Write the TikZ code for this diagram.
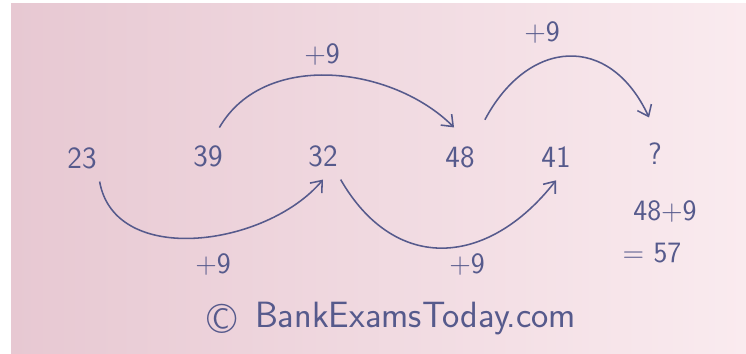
\documentclass[tikz,border=0pt]{standalone}
\usepackage{tikz}
\usepackage{xcolor}
\usetikzlibrary{arrows.meta, positioning}

\definecolor{ink}{RGB}{86,90,140}
\definecolor{paperL}{RGB}{231,200,210}
\definecolor{paperR}{RGB}{250,235,239}

\begin{document}
\begin{tikzpicture}[
				x=0.025cm, y=0.025cm,
				>={Straight Barb[length=7pt,width=11pt]},
				num/.style={font=\sffamily\fontsize{22}{24}\selectfont, text=ink, inner xsep=2pt, inner ysep=9pt},
				plus/.style={font=\sffamily\fontsize{21}{24}\selectfont, text=ink},
				arrow/.style={->, line width=1.1pt, draw=ink}
				]
				
				% Fondo
				\useasboundingbox (0,0) rectangle (746,354);
				\fill[white] (0,0) rectangle (746,354);
				\fill[left color=paperL, right color=paperR] (11,0) rectangle (746,350);
				
				% Serie
				\node[num] (n23) at (82,196) {23};
				\node[num] (n39) at (208,198) {39};
				\node[num] (n32) at (323,198) {32};
				\node[num] (n48) at (460,197) {48};
				\node[num] (n41) at (556,197) {41};
				\node[num] (nq)  at (655,200) {?};
				
				% Arcos de abajo
				\path
				(n23.south east) edge[arrow, out=-80, in=-130] (n32.south)
				(n32.south east) edge[arrow, out=-60, in=-128, looseness=1.3] (n41.south);
				
				% Arcos de arriba
				\path
				(n39.70) edge[arrow, out=60, in=135, shorten <=4pt, shorten >=6pt] (n48.north)
				(n48.north east) edge[arrow, out=62, in=115, looseness=1.55, shorten <=11pt, shorten >=10pt] (nq.north);
				
				% Sumandos
				\node[plus] (p1) at (213,89) {+9};
				\node[plus] (p2) at (322,299) {+9};
				\node[plus] (p3) at (467,89) {+9};
				\node[plus] (p4) at (542,321) {+9};
				
				% Respuesta
				\node[plus] (sum) at (665,142) {48+9};
				\node[plus] (res) at (652,101) {= 57};
				
				% Firma
				\node[font=\sffamily\fontsize{30}{32}\selectfont, text=ink] (copy) at (222,35) {\textcopyright};
				\node[font=\sffamily\fontsize{26}{28}\selectfont, text=ink, right=6pt of copy] (site) {BankExamsToday.com};
				
			\end{tikzpicture}
\end{document}
